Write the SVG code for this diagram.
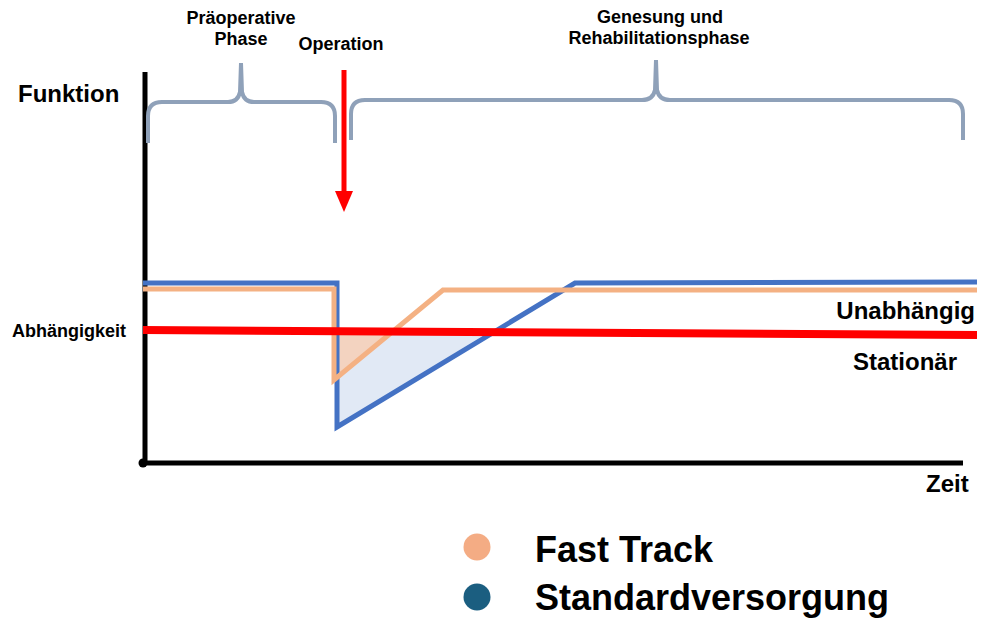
<svg xmlns="http://www.w3.org/2000/svg" width="981" height="619" viewBox="0 0 981 619">
<style>
text{font-family:"Liberation Sans",Arial,sans-serif;font-weight:bold;fill:#000}
.brace{fill:none;stroke:#8FA1B9;stroke-width:4}
.axis{stroke:#000;stroke-width:5;fill:none}
</style>
<rect width="981" height="619" fill="#fff"/>
<g id="fills">
<polygon points="337,330 337,427 487,333" fill="#DAE3F3" opacity="0.8"/>
<polygon points="333,330 333,380 393,331" fill="#F8CBAD" opacity="0.75"/>
</g>
<g id="axes">
<line class="axis" x1="145" y1="72" x2="145" y2="463"/>
<line class="axis" x1="142" y1="463" x2="963" y2="463"/>
<circle cx="143" cy="463" r="4.5" fill="#000"/>
</g>
<g id="lines" fill="none" stroke-width="5" stroke-linejoin="miter">
<polyline points="143,283 337,283 337,427 575,283 977,282" stroke="#4472C4"/>
<polyline points="143,289 334,289 334,380 443,290 977,290" stroke="#F4B183"/>
<line x1="143" y1="330" x2="977" y2="335" stroke="#FF0000" stroke-width="8"/>
</g>
<g id="braces">
<path class="brace" d="M148,143 V116 Q148,102 162,102 H228 Q238,102 240,92 L241,63 L242,92 Q244,102 254,102 H321 Q335,102 335,116 V143"/>
<path class="brace" d="M351,140 V114 Q351,100 365,100 H642 Q653,100 655,90 L656,60 L657,90 Q659,100 670,100 H949 Q963,100 963,114 V140"/>
</g>
<g id="operation-arrow">
<line x1="344" y1="70" x2="344" y2="194" stroke="#FF0000" stroke-width="5"/>
<polygon points="335,191 353,191 344,212" fill="#FF0000"/>
</g>
<g id="labels">
<text x="241" y="24" font-size="18" text-anchor="middle">Präoperative</text>
<text x="241" y="45" font-size="18" text-anchor="middle">Phase</text>
<text x="341" y="50" font-size="18" text-anchor="middle">Operation</text>
<text x="660" y="23" font-size="18" text-anchor="middle">Genesung und</text>
<text x="659" y="44" font-size="18" text-anchor="middle">Rehabilitationsphase</text>
<text x="18" y="102" font-size="24">Funktion</text>
<text x="12" y="337" font-size="18">Abhängigkeit</text>
<text x="975" y="319" font-size="24" text-anchor="end">Unabhängig</text>
<text x="853" y="370" font-size="24">Stationär</text>
<text x="926" y="492" font-size="24">Zeit</text>
</g>
<g id="legend">
<circle cx="477" cy="547" r="13.5" fill="#F4AC84"/>
<circle cx="477" cy="597" r="13.5" fill="#1B5E80"/>
<text x="535" y="562" font-size="36">Fast Track</text>
<text x="535" y="610" font-size="36">Standardversorgung</text>
</g>
</svg>
